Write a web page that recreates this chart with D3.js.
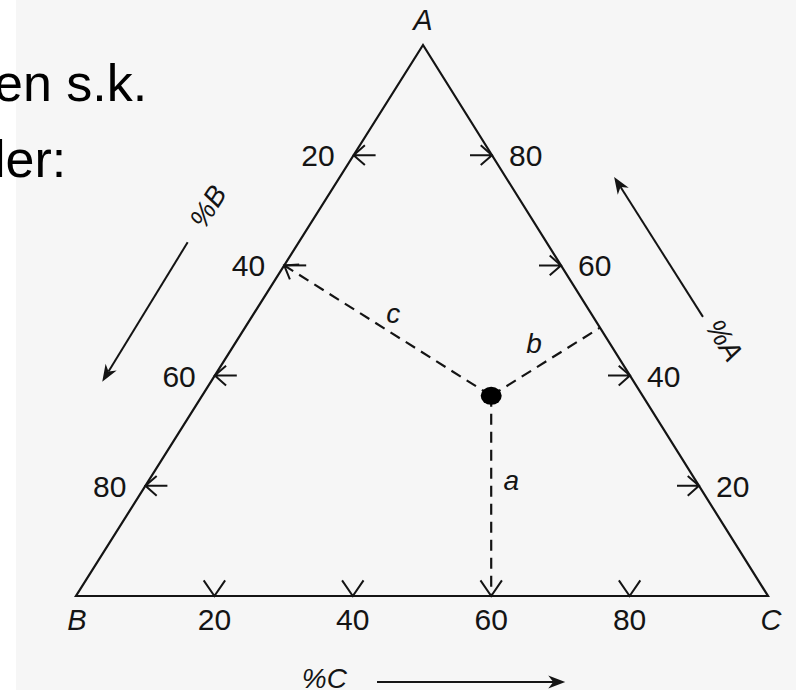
<!DOCTYPE html>
<html>
<head>
<meta charset="utf-8">
<script src="https://cdn.jsdelivr.net/npm/d3@7"></script>
<style>
  body { margin: 0; background: #fff; }
  svg { display: block; font-family: "Liberation Sans", Arial, Helvetica, sans-serif; }
</style>
</head>
<body>
<div id="chart"></div>
<script>
const width = 796;
const height = 690;

// Chart data
const vertexNames = ["A", "B", "C"];
const axisNames = ["%A", "%B", "%C"];
const tickValues = [20, 40, 60, 80];
const distanceNames = ["a", "b", "c"];
const sideText = ["en s.k.", "ler:"];
const pointC = 60;   // foot of "a" on B–C (%C)
const pointB = 40;   // foot of "c" on A–B (%B)

// Triangle corners (layout)
const A = [423, 45], B = [76, 596], C = [768, 596];

// Small vector helpers
const add = (p, v, s = 1) => [p[0] + v[0] * s, p[1] + v[1] * s];
const sub = (p, q) => [p[0] - q[0], p[1] - q[1]];
const dot = (u, v) => u[0] * v[0] + u[1] * v[1];
const unit = (p, q) => { const d = sub(q, p), l = Math.hypot(d[0], d[1]); return [d[0] / l, d[1] / l]; };
const rot = (v, a) => [v[0] * Math.cos(a) - v[1] * Math.sin(a), v[0] * Math.sin(a) + v[1] * Math.cos(a)];
const perp = v => [-v[1], v[0]];

// Scales along each side (value -> point)
const scaleA = d3.scaleLinear().domain([100, 0]).range([A, C]);   // right side
const scaleB = d3.scaleLinear().domain([0, 100]).range([A, B]);   // left side
const scaleC = d3.scaleLinear().domain([0, 100]).range([B, C]);   // bottom

const svg = d3.select("#chart")
    .append("svg")
    .attr("width", width)
    .attr("height", height);

// Paper background (left margin stays white)
svg.append("rect")
    .attr("x", 16).attr("y", 0)
    .attr("width", width - 16).attr("height", height)
    .attr("fill", "#f6f6f6");

// Cut-off text on the left
svg.append("g")
    .selectAll("text")
    .data(sideText)
    .join("text")
    .attr("x", -6)
    .attr("y", (d, i) => 101 + i * 76)
    .style("font-size", "52px")
    .style("fill", "#000")
    .text(d => d);

const ink = "#141414";

// Open arrow (tick) path
function openArrow(tip, dir, shaft, arm, ang) {
    const back = [-dir[0], -dir[1]];
    const p = d3.path();
    if (shaft) { p.moveTo(...add(tip, back, shaft)); p.lineTo(...tip); }
    p.moveTo(...add(tip, rot(back, ang), arm));
    p.lineTo(...tip);
    p.lineTo(...add(tip, rot(back, -ang), arm));
    return p.toString();
}

// Solid arrow (line + filled head)
function solidArrow(g, tail, tip) {
    const d = unit(tail, tip), n = perp(d);
    const len = 17, half = 6.5, notch = 5;
    const base = add(tip, d, -len);
    g.append("path")
        .attr("d", d3.line()([tail, add(tip, d, -len + notch)]))
        .attr("stroke", ink).attr("stroke-width", 2).attr("fill", "none");
    g.append("path")
        .attr("d", d3.line()([tip, add(base, n, half), add(tip, d, -len + notch), add(base, n, -half)]) + "Z")
        .attr("fill", ink);
}

// Triangle
svg.append("path")
    .attr("d", d3.line()([A, B, C]) + "Z")
    .attr("fill", "none")
    .attr("stroke", ink)
    .attr("stroke-width", 2.2)
    .attr("stroke-linejoin", "miter");

// The sample point and its perpendicular distances
const footC = scaleC(pointC);
const footB = scaleB(pointB);
const nAB = perp(unit(A, B));
const inAB = dot(nAB, sub(C, A)) > 0 ? nAB : [-nAB[0], -nAB[1]];
const s = (footC[0] - footB[0]) / inAB[0];
const P = add(footB, inAB, s);
const uAC = unit(A, C);
const footA = add(A, uAC, dot(sub(P, A), uAC));

const dashes = [
    { name: "a", foot: footC, t: 0.42, off: -20 },
    { name: "b", foot: footA, t: 0.5, off: -22 },
    { name: "c", foot: footB, t: 0.52, off: 18 }
];

svg.append("g")
    .selectAll("path")
    .data(dashes)
    .join("path")
    .attr("d", d => d3.line()([P, d.foot]))
    .attr("stroke", ink)
    .attr("stroke-width", 2.2)
    .attr("stroke-dasharray", "11,7")
    .attr("fill", "none");

svg.append("g")
    .selectAll("text")
    .data(dashes)
    .join("text")
    .attr("transform", d => {
        const dir = unit(P, d.foot);
        const len = Math.hypot(...sub(d.foot, P));
        const pos = add(add(P, dir, len * d.t), perp(dir), d.off);
        return `translate(${pos[0]},${pos[1]})`;
    })
    .attr("dy", "0.35em")
    .attr("text-anchor", "middle")
    .style("font-size", "28px")
    .style("font-style", "italic")
    .style("fill", ink)
    .text((d, i) => distanceNames[i]);

svg.append("ellipse")
    .attr("cx", P[0]).attr("cy", P[1])
    .attr("rx", 10.5).attr("ry", 9)
    .attr("fill", "#000");

// Ticks
const ticks = svg.append("g")
    .attr("fill", "none")
    .attr("stroke", ink)
    .attr("stroke-width", 2);

tickValues.forEach(v => {
    // left side (%B): arrows pointing left
    const pl = scaleB(v);
    if (v === pointB) {
        ticks.append("path").attr("d", d3.line()([pl, add(pl, [1, 0], 22)]));
        ticks.append("path").attr("d", openArrow(pl, unit(P, footB), 0, 15, 0.62));
    } else {
        ticks.append("path").attr("d", openArrow(pl, [-1, 0], 22, 15, 0.72));
    }
    // right side (%A): arrows pointing right
    const pr = scaleA(v);
    ticks.append("path").attr("d", openArrow(pr, [1, 0], 22, 15, 0.72));
    // bottom (%C): V marks pointing down
    const pb = scaleC(v);
    ticks.append("path").attr("d", openArrow(pb, [0, 1], 0, 19, 0.6));
});

// Tick labels
const tickFont = "30px";
svg.append("g")
    .selectAll("text")
    .data(tickValues)
    .join("text")
    .attr("x", d => scaleB(d)[0] - 19)
    .attr("y", d => scaleB(d)[1] + 11)
    .attr("text-anchor", "end")
    .style("font-size", tickFont)
    .style("fill", ink)
    .text(d => d);

svg.append("g")
    .selectAll("text")
    .data(tickValues)
    .join("text")
    .attr("x", d => scaleA(d)[0] + 17)
    .attr("y", d => scaleA(d)[1] + 11)
    .style("font-size", tickFont)
    .style("fill", ink)
    .text(d => d);

svg.append("g")
    .selectAll("text")
    .data(tickValues)
    .join("text")
    .attr("x", d => scaleC(d)[0])
    .attr("y", scaleC(0)[1] + 34)
    .attr("text-anchor", "middle")
    .style("font-size", tickFont)
    .style("fill", ink)
    .text(d => d);

// Vertex labels
const vertexPos = [add(A, [0, -15]), add(B, [1, 34]), add(C, [3, 34])];
svg.append("g")
    .selectAll("text")
    .data(vertexNames)
    .join("text")
    .attr("x", (d, i) => vertexPos[i][0])
    .attr("y", (d, i) => vertexPos[i][1])
    .attr("text-anchor", "middle")
    .style("font-size", "29px")
    .style("font-style", "italic")
    .style("fill", ink)
    .text(d => d);

// Direction arrows beside each side
const arrows = svg.append("g");
function outward(p0, p1, opp) {
    const n = perp(unit(p0, p1));
    return dot(n, sub(opp, p0)) > 0 ? [-n[0], -n[1]] : n;
}
const outAB = outward(A, B, C), outAC = outward(A, C, B);
const along = (p0, p1, t, n, off) => add(d3.interpolate(p0, p1)(t), n, off);

solidArrow(arrows, along(A, B, 0.449, outAB, 94), along(A, B, 0.70, outAB, 92));
solidArrow(arrows, along(A, C, 0.583, outAC, 93), along(A, C, 0.328, outAC, 92));
solidArrow(arrows, along(B, C, 0.435, [0, 1], 86), along(B, C, 0.707, [0, 1], 86));

const slope = Math.atan2(B[1] - A[1], A[0] - B[0]) * 180 / Math.PI;   // ~58°
const axisPos = [
    { p: along(A, C, 0.631, outAC, 99), r: slope },
    { p: along(A, B, 0.386, outAB, 96), r: -slope },
    { p: along(B, C, 0.359, [0, 1], 82), r: 0 }
];
svg.append("g")
    .selectAll("text")
    .data(axisNames)
    .join("text")
    .attr("transform", (d, i) => `translate(${axisPos[i].p[0]},${axisPos[i].p[1]}) rotate(${axisPos[i].r})`)
    .attr("dy", "0.35em")
    .attr("text-anchor", "middle")
    .style("font-size", "28px")
    .style("font-style", "italic")
    .style("fill", ink)
    .text(d => d);
</script>
</body>
</html>
